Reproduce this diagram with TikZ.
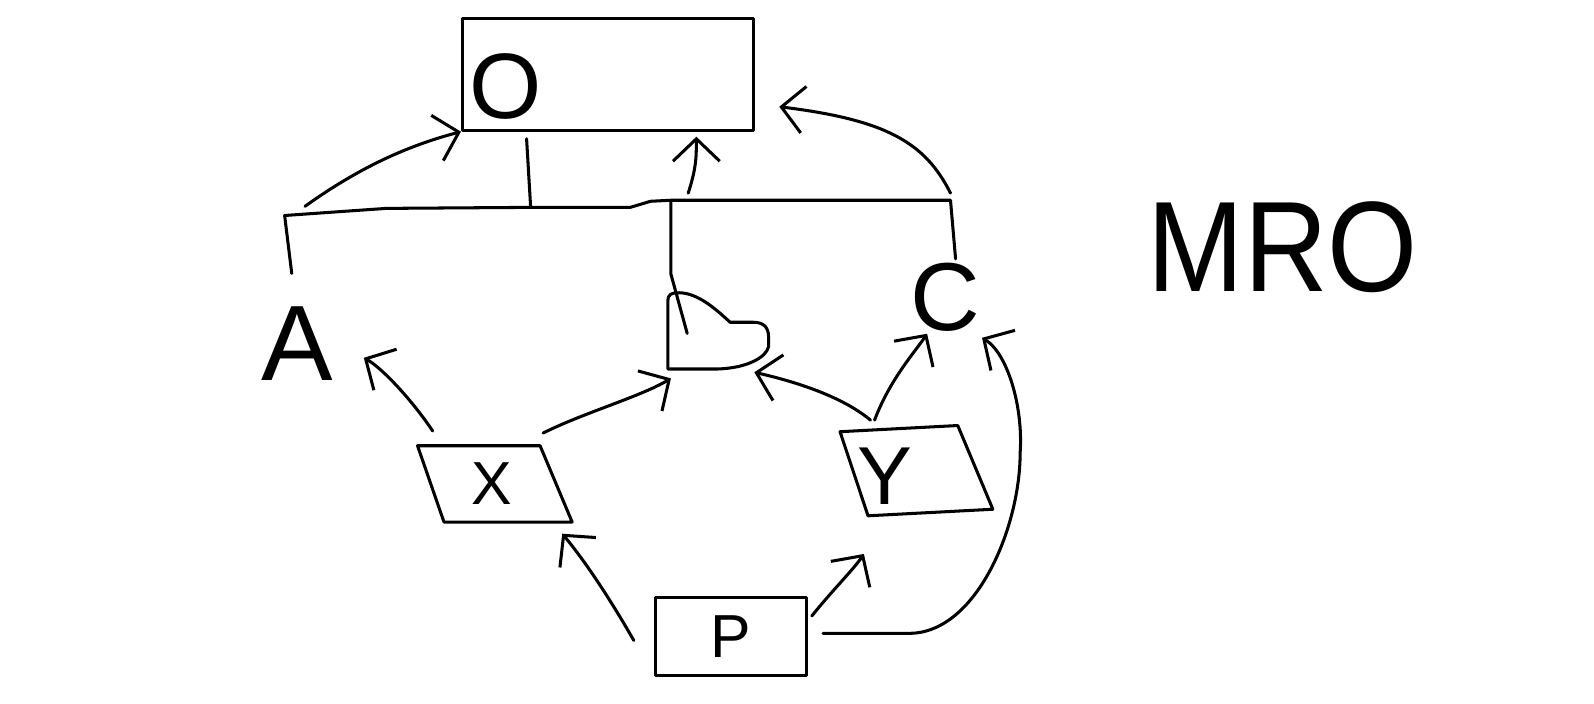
\documentclass[tikz,border=0pt]{standalone}
\usepackage{fontspec}
\setmainfont{Liberation Sans}
\usetikzlibrary{arrows.meta,shapes.geometric,calc}
\newcommand\glyphsize[1]{\fontsize{#1}{#1}\selectfont}
\begin{document}
\begin{tikzpicture}[x=0.01cm,y=-0.01cm,
  ink/.style={line width=0.85pt, line cap=round, line join=round},
  arr/.style={ink, -{Straight Barb[length=2.2mm,width=4.6mm]}},
  box/.style={ink, draw, rectangle, inner sep=0pt},
  para/.style={ink, draw, trapezium, trapezium left angle=105,
    trapezium right angle=72, trapezium stretches=true, inner sep=1pt},
  letter/.style={inner sep=0pt}]
\useasboundingbox (0,0) rectangle (1568,692);

% boxes and letters
\node[box, minimum width=2.86cm, minimum height=1.10cm] (O) at (598,73) {};
\node[letter, font=\glyphsize{26}] (Olbl) at (497,85) {O};
\node[box, minimum width=1.48cm, minimum height=0.77cm, font=\glyphsize{17}] (P) at (719,626) {P};
\node[para, minimum width=1.52cm, minimum height=0.75cm, font=\glyphsize{17}] (X) at (484,476) {X};
\node[para, minimum width=1.46cm, minimum height=0.84cm, rotate=3,
  trapezium left angle=104] (Y) at (898,463) {};
\node[letter, font=\glyphsize{23}] (Ylbl) at (870,468) {Y};
\node[letter, font=\glyphsize{30}] (A) at (292,338) {A};
\node[letter, font=\glyphsize{27}] (C) at (930,292) {C};
\node[letter, font=\glyphsize{36}] (MRO) at (1262,243) {\scalebox{0.9}[1]{MRO}};

% the blob between A and C
\node[minimum width=1.0cm, minimum height=0.75cm, inner sep=0pt] (H) at (706,326) {};
\begin{scope}[shift={(H)}]
  \draw[ink] (-49,37) -- (-49,-30) .. controls (-49,-37) and (-45,-38) .. (-38,-38)
    .. controls (-20,-38) and (-2,-22) .. (10,-11) -- (12,-9) -- (35,-9)
    .. controls (45,-9) and (50,-4) .. (50,5) -- (50,15)
    .. controls (48,25) and (30,36) .. (0,37) -- cycle;
\end{scope}

% bus joining A, the blob and C to O
\coordinate (busL) at (280,212);
\coordinate (busO) at (522,204);
\coordinate (busH) at (660,197);
\coordinate (busR) at (935,197);
\draw[ink] ($(A.north)+(-5,-32)$) -- (busL) -- (380,205) -- (busO) -- (620,204)
  -- (640,198) -- (busH) -- (busR) -- ($(C.north)+(10,-3)$);
\draw[ink] (busO) -- ($(O.south)+(-80,7)$);
\draw[ink] (busH) -- ($(H.north)+(-46,-18)$) -- ($(H.center)+(-30,2)$);

% arrows up into O
\draw[arr] ($(busL)+(20,-9)$) .. controls +(60,-43) and +(-45,12) .. (O.south west);
\draw[arr] ($(busH)+(17,-7)$) .. controls +(8,-25) and +(0,20) .. ($(O.south)+(87,5)$);
\draw[arr] ($(busR)+(0,-7)$) .. controls +(-25,-50) and +(105,13) .. ($(O.east)+(24,32)$);

% arrows from X and Y
\draw[arr] ($(X.top left corner)+(17,-13)$) .. controls +(-20,-30) and +(18,10) .. ($(A.south east)+(30,-23)$);
\draw[arr] ($(X.top right corner)+(2,-11)$) .. controls +(40,-20) and +(-30,18) .. ($(H.south)+(-46,8)$);
\draw[arr] ($(Y.top left corner)+(32,-10)$) .. controls +(-30,-25) and +(35,8) .. ($(H.south)+(36,2)$);
\draw[arr] ($(Y.top left corner)+(36,-10)$) .. controls +(15,-40) and +(-12,18) .. ($(C.south)+(-18,2)$);

% arrows from P
\draw[arr] ($(P.west)+(-20,4)$) .. controls +(-20,-35) and +(25,30) .. ($(X.bottom right corner)+(-12,10)$);
\draw[arr] ($(P.north east)+(4,20)$) .. controls +(20,-25) and +(-10,15) .. ($(Y.bottom left corner)+(-3,36)$);
\draw[arr] ($(P.east)+(15,-3)$) -- ++(85,0) .. controls +(65,0) and +(0,75) .. ++(109,-178)
  .. controls +(3,-45) and +(25,15) .. ($(C.south east)+(1,6)$);
\end{tikzpicture}
\end{document}
